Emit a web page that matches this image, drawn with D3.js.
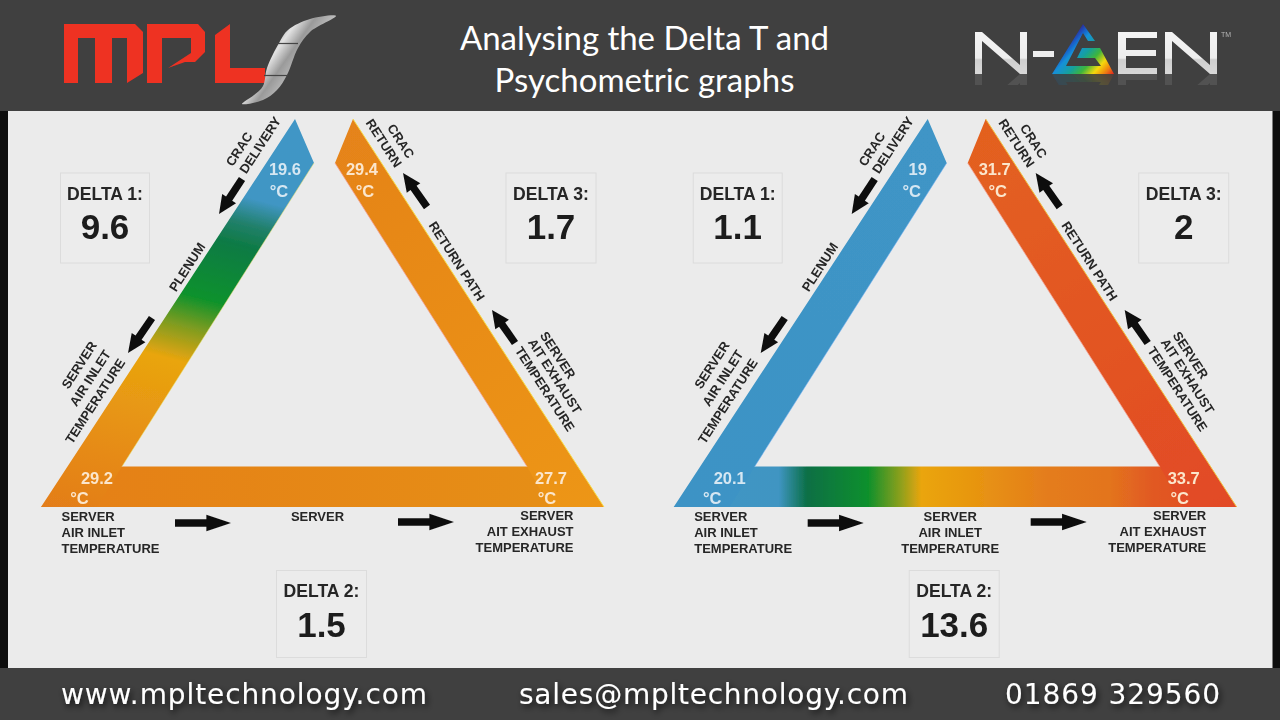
<!DOCTYPE html>
<html>
<head>
<meta charset="utf-8">
<script src="https://cdn.jsdelivr.net/npm/d3@7"></script>
<style>
  html, body { margin: 0; padding: 0; background: #0e0e0e; }
  svg { display: block; }
  .lbl { font-family: "Liberation Sans", Arial, sans-serif; font-weight: bold; font-size: 13px; fill: #262626; }
</style>
</head>
<body>
<svg id="chart" width="1280" height="720"></svg>
<script>
// values, one entry per triangle (left, right)
var cracDelivery = [19.6, 19];
var cracReturn = [29.4, 31.7];
var serverInlet = [29.2, 20.1];
var serverExhaust = [27.7, 33.7];
var delta1 = [9.6, 1.1];
var delta2 = [1.5, 13.6];
var delta3 = [1.7, 2];
var middleLabels = [["SERVER"], ["SERVER", "AIR INLET", "TEMPERATURE"]];
var titleLines = ["Analysing the Delta T and", "Psychometric graphs"];
var contacts = ["www.mpltechnology.com", "sales@mpltechnology.com", "01869 329560"];

var svg = d3.select("#chart");
var defs = svg.append("defs");
var line = d3.line();

// each panel is the same drawing, only shifted
var panelOffset = 632.7;
var px = d3.scaleLinear().domain([0, 1280]).range([0, 1280]);

function gradient(id, p1, p2, stops) {
  var g = defs.append("linearGradient").attr("id", id)
    .attr("gradientUnits", "userSpaceOnUse")
    .attr("x1", p1[0]).attr("y1", p1[1]).attr("x2", p2[0]).attr("y2", p2[1]);
  stops.forEach(function(s) {
    g.append("stop").attr("offset", s[0]).attr("stop-color", s[1]);
  });
}

var blur = defs.append("filter").attr("id", "soft");
blur.append("feGaussianBlur").attr("stdDeviation", 0.45);
var shadow = defs.append("filter").attr("id", "shadow")
  .attr("x", "-5%").attr("y", "-30%").attr("width", "110%").attr("height", "170%");
shadow.append("feDropShadow").attr("dx", 2).attr("dy", 3).attr("stdDeviation", 3)
  .attr("flood-color", "#000").attr("flood-opacity", 0.75);

// gradients along the three bands
gradient("lLeft0", [295, 119], [185, 544], [[0, "#4096c6"], [0.2, "#4096c4"], [0.26, "#21806a"], [0.31, "#0e7a45"],
  [0.45, "#10922c"], [0.52, "#7f9c20"], [0.6, "#e9a50f"], [0.85, "#e68a16"], [1, "#e37d1a"]]);
gradient("lRight0", [353, 119], [604, 507], [[0, "#e5831a"], [1, "#ed9613"]]);
gradient("lBottom0", [41, 0], [604, 0], [[0, "#e57f19"], [1, "#e69014"]]);
gradient("lLeft1", [295, 119], [41, 507], [[0, "#3f95c6"], [1, "#3d93c5"]]);
gradient("lRight1", [353, 119], [604, 507], [[0, "#e3611f"], [1, "#e24a26"]]);
gradient("lBottom1", [41, 0], [604, 0], [[0, "#3f96c6"], [0.187, "#3f95c2"], [0.237, "#0b6f45"], [0.346, "#10902c"],
  [0.404, "#8fa01c"], [0.44, "#eaa50e"], [0.52, "#e8980f"], [0.666, "#e47c1c"], [0.775, "#e3741e"],
  [0.847, "#e15a22"], [0.955, "#e24a26"], [1, "#e24a26"]]);

// page background
svg.append("rect").attr("width", 1280).attr("height", 720).attr("fill", "#0e0e0e");
svg.append("rect").attr("x", 8).attr("y", 111).attr("width", 1264.5).attr("height", 557).attr("fill", "#ebebeb");

function arrow(g, tail, tip) {
  var dx = tip[0] - tail[0], dy = tip[1] - tail[1];
  var len = Math.sqrt(dx * dx + dy * dy);
  var a = Math.atan2(dy, dx) * 180 / Math.PI;
  var head = len * 0.44;
  var shape = [[0, -3.7], [len - head, -3.7], [len - head, -8.3], [len, 0], [len - head, 8.3], [len - head, 3.7], [0, 3.7]];
  g.append("path").attr("d", line(shape) + "Z").attr("fill", "#111")
    .attr("transform", "translate(" + px(tail[0]) + "," + px(tail[1]) + ") rotate(" + a + ")");
}

function rotated(g, txt, x, y, angle) {
  g.append("text").attr("class", "lbl").attr("text-anchor", "middle").attr("dy", "0.36em")
    .attr("transform", "translate(" + px(x) + "," + px(y) + ") rotate(" + angle + ")").text(txt);
}

function plain(g, txt, x, y, anchor) {
  g.append("text").attr("class", "lbl").attr("text-anchor", anchor).attr("x", px(x)).attr("y", px(y)).text(txt);
}

function temp(g, value, x, y, ux, uy, colour) {
  [[value, x, y], ["°C", ux, uy]].forEach(function(t) {
    g.append("text").attr("x", px(t[1])).attr("y", px(t[2])).attr("text-anchor", "middle")
      .attr("font-family", "Liberation Sans, Arial, sans-serif").attr("font-weight", "bold")
      .attr("font-size", 16.5).attr("fill", colour).text(t[0]);
  });
}

function deltaBox(g, name, value, x, y, w, h) {
  g.append("rect").attr("x", px(x)).attr("y", px(y)).attr("width", w).attr("height", h)
    .attr("fill", "#ececec").attr("stroke", "#dcdcdc").attr("stroke-width", 1);
  g.append("text").attr("x", px(x + w / 2)).attr("y", px(y + 26.5)).attr("text-anchor", "middle")
    .attr("font-family", "Liberation Sans, Arial, sans-serif").attr("font-weight", "bold")
    .attr("font-size", 17.6).attr("fill", "#262626").text(name);
  g.append("text").attr("x", px(x + w / 2)).attr("y", px(y + 66)).attr("text-anchor", "middle")
    .attr("font-family", "Liberation Sans, Arial, sans-serif").attr("font-weight", "bold")
    .attr("font-size", 35).attr("fill", "#1c1c1c").text(value);
}

[0, 1].forEach(function(i) {
  var g = svg.append("g").attr("filter", "url(#soft)")
    .attr("transform", "translate(" + (i * panelOffset) + ",0)");

  // the three bands, the bottom one goes under the two others
  g.append("path").attr("d", line([[122, 466.5], [527, 466.5], [604, 507], [41, 507]]) + "Z")
    .attr("fill", "url(#lBottom" + i + ")");
  g.append("path").attr("d", line([[295, 119], [314, 163], [122, 466.5], [97, 507], [41, 507]]) + "Z")
    .attr("fill", "url(#lLeft" + i + ")");
  g.append("path").attr("d", line([[353, 119], [335, 163], [527, 466.5], [550, 507], [604, 507]]) + "Z")
    .attr("fill", "url(#lRight" + i + ")");

  // thin light edges on the bands
  g.append("path").attr("d", line([[353, 119], [604, 507]])).attr("stroke", i ? "#f0c040" : "#f6dc4a")
    .attr("stroke-width", 1).attr("fill", "none");
  g.append("path").attr("d", line([[335, 163], [527, 466.5]])).attr("stroke", "#f3a090")
    .attr("stroke-width", 0.8).attr("fill", "none");
  g.append("path").attr("d", line([[314, 163], [122, 466.5]])).attr("stroke", i ? "#70aef0" : "#e8e070")
    .attr("stroke-width", 0.8).attr("fill", "none").attr("opacity", 0.7);

  temp(g, cracDelivery[i], 285, 175, 279, 197, "#d6e7f2");
  temp(g, cracReturn[i], 362, 175, 365, 197, "#fbe6cc");
  temp(g, serverInlet[i], 97, 484, 79.5, 504, i ? "#d6e7f2" : "#fbe6cc");
  temp(g, serverExhaust[i], 551, 484, 547, 504, "#fbe6cc");

  rotated(g, "CRAC", 239, 149, -57);
  rotated(g, "DELIVERY", 260, 145, -57);
  rotated(g, "PLENUM", 187, 267, -57);
  rotated(g, "SERVER", 79, 365, -57);
  rotated(g, "AIR INLET", 90, 378, -57);
  rotated(g, "TEMPERATURE", 95, 401, -57);
  rotated(g, "CRAC", 401, 141, 57);
  rotated(g, "RETURN", 384, 143, 57);
  rotated(g, "RETURN PATH", 457, 261, 57);
  rotated(g, "SERVER", 558, 355, 57);
  rotated(g, "AIT EXHAUST", 555, 376, 57);
  rotated(g, "TEMPERATURE", 545, 389, 57);

  plain(g, "SERVER", 61.5, 521, "start");
  plain(g, "AIR INLET", 61.5, 537, "start");
  plain(g, "TEMPERATURE", 61.5, 553, "start");
  middleLabels[i].forEach(function(t, k) {
    plain(g, t, 317.5, 521 + k * 16, "middle");
  });
  plain(g, "SERVER", 573.5, 520, "end");
  plain(g, "AIT EXHAUST", 573.5, 536, "end");
  plain(g, "TEMPERATURE", 573.5, 552, "end");

  arrow(g, [242, 179], [219, 214]);
  arrow(g, [152, 318], [128, 353]);
  arrow(g, [427, 207], [403, 173]);
  arrow(g, [515, 343], [492, 310]);
  arrow(g, [175, 523], [231, 523]);
  arrow(g, [398, 522], [454, 522]);

  deltaBox(g, "DELTA 1:", delta1[i], 60.5, 173, 89, 90);
  deltaBox(g, "DELTA 3:", delta3[i], 506, 173, 90, 90);
  deltaBox(g, "DELTA 2:", delta2[i], 276.5, 570.5, 90, 87);
});

// header and footer bars
svg.append("rect").attr("width", 1280).attr("height", 111).attr("fill", "#404040");
svg.append("rect").attr("y", 668).attr("width", 1280).attr("height", 52).attr("fill", "#404040");

var head = svg.append("g").attr("filter", "url(#soft)");

// MPL logo
var red = "#ee3124";
head.append("path").attr("fill", red).attr("d", line([[64, 24], [135, 24], [143, 32], [143, 73], [127, 83], [127, 38],
  [112, 38], [112, 83], [95, 83], [95, 38], [78, 38], [78, 83], [64, 83]]) + "Z");
head.append("path").attr("fill", red).attr("d", line([[147, 24], [198, 24], [205, 32], [205, 52], [195, 62], [185, 62],
  [168, 68], [191, 53], [191, 38], [162, 38], [162, 83], [147, 83]]) + "Z");
head.append("path").attr("fill", red).attr("d", line([[215, 35], [230, 24], [230, 68], [265, 68], [265, 83], [215, 83]]) + "Z");

gradient("swoosh", [262, 30], [305, 60], [[0, "#777"], [0.45, "#e2e2e2"], [0.7, "#9a9a9a"], [1, "#bdbdbd"]]);
head.append("path").attr("fill", "url(#swoosh)")
  .attr("d", d3.line().curve(d3.curveCatmullRomClosed)([[336, 16], [310, 19], [288, 30], [279, 43], [267, 68], [263, 86],
    [254, 95], [242, 104], [263, 100], [277, 90], [287, 75], [298, 48], [310, 32]]));
head.append("path").attr("d", line([[276, 43.5], [298, 43.5]])).attr("stroke", "#444").attr("stroke-width", 1.2);
head.append("path").attr("d", line([[264, 75.5], [288, 75.5]])).attr("stroke", "#444").attr("stroke-width", 1.2);

// N-GEN logo
gradient("genWhite", [0, 32], [0, 74], [[0, "#f4f4f4"], [0.62, "#ededed"], [0.66, "#cfcfcf"], [1, "#d8d8d8"]]);
gradient("genRainbow", [1083, 24], [1125, 62], [[0, "#2b2d9b"], [0.1, "#1a5fc8"], [0.2, "#1590d8"], [0.38, "#14a0a0"],
  [0.55, "#3eb53c"], [0.72, "#f5d80f"], [0.85, "#f08a10"], [1, "#e02020"]]);
defs.append("clipPath").attr("id", "genClip").append("rect").attr("x", 960).attr("y", 74).attr("width", 270).attr("height", 11);

function genLetters(g) {
  var letters = [
    [[975, 32], [982, 32], [1020, 65], [1020, 32], [1027, 32], [1027, 74], [1020, 74], [982, 41], [982, 74], [975, 74]],
    [[1033, 51], [1054, 51], [1054, 57], [1033, 57]],
    [[1118, 32], [1157, 32], [1157, 38], [1126, 38], [1126, 50], [1156, 50], [1156, 56], [1126, 56], [1126, 68], [1157, 68], [1157, 74], [1118, 74]],
    [[1165, 32], [1172, 32], [1210, 65], [1210, 32], [1217, 32], [1217, 74], [1210, 74], [1172, 41], [1172, 74], [1165, 74]]
  ];
  letters.forEach(function(p) {
    g.append("path").attr("d", line(p) + "Z").attr("fill", "url(#genWhite)");
  });
  g.append("path").attr("fill", "url(#genRainbow)").attr("d", line([[1083, 24], [1095, 41], [1088, 41], [1083, 33], [1066, 66],
    [1101, 66], [1095, 58], [1077, 58], [1082, 48], [1100, 48], [1114, 74], [1052, 74]]) + "Z");
}
genLetters(head);
var mirror = head.append("g").attr("clip-path", "url(#genClip)").append("g")
  .attr("transform", "translate(0,148) scale(1,-1)").attr("opacity", 0.12);
genLetters(mirror);
head.append("text").attr("x", 1221).attr("y", 37).attr("font-family", "Liberation Sans, Arial, sans-serif")
  .attr("font-size", 7).attr("fill", "#b5b5b5").text("TM");

// title
titleLines.forEach(function(t, k) {
  svg.append("text").attr("x", 644.5).attr("y", 49.5 + k * 42.5).attr("text-anchor", "middle")
    .attr("font-family", "Lato, sans-serif").attr("font-size", 33).attr("fill", "#fff")
    .attr("textLength", k ? 300 : 369).attr("lengthAdjust", "spacing").text(t);
});

// footer contact line
var contactX = [61, 519, 1005];
var contactW = [366, 389, 215];
contacts.forEach(function(t, k) {
  svg.append("text").attr("x", contactX[k]).attr("y", 704)
    .attr("font-family", "DejaVu Sans, sans-serif").attr("font-size", 28).attr("fill", "#fff")
    .attr("textLength", contactW[k]).attr("lengthAdjust", "spacing")
    .attr("filter", "url(#shadow)").text(t);
});
</script>
</body>
</html>
